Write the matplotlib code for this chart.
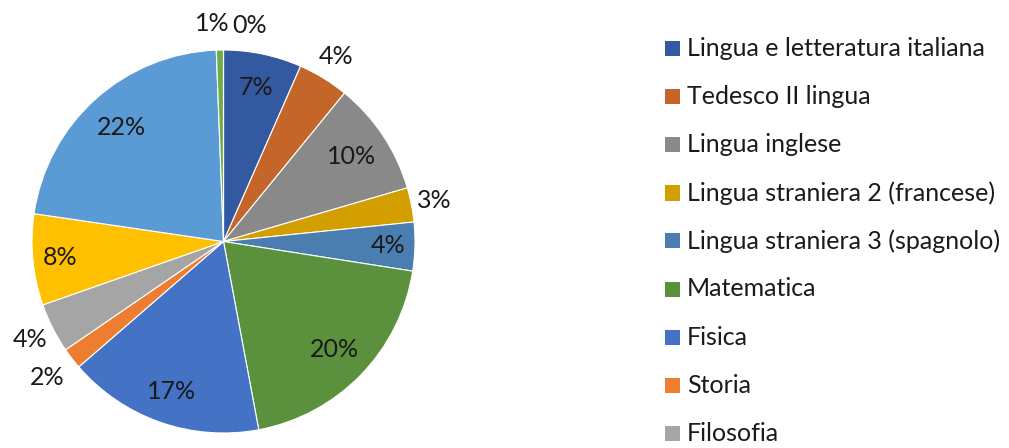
import matplotlib
matplotlib.use("Agg")
import matplotlib.pyplot as plt
from matplotlib.patches import Rectangle
import numpy as np

plt.rcParams["font.family"] = ["Lato", "DejaVu Sans"]

# ── Data ─────────────────────────────────────────────────────────────────────
subjects = [
    "Lingua e letteratura italiana",
    "Tedesco II lingua",
    "Lingua inglese",
    "Lingua straniera 2 (francese)",
    "Lingua straniera 3 (spagnolo)",
    "Matematica",
    "Fisica",
    "Storia",
    "Filosofia",
    "Scienze naturali",
    "Disegno e storia dell'arte",
    "Scienze motorie e sportive",
    "Religione cattolica",
]
shares = [6.6, 4.3, 9.6, 2.9, 4.1, 19.6, 16.6, 1.8, 4.2, 7.7, 22.1, 0.6, 0.0]

COLORS = ["#335AA1", "#C4652A", "#898989", "#D39E00", "#4A7EB0", "#5B903C",
          "#4472C4", "#ED7D31", "#A5A5A5", "#FFC000", "#5B9BD5", "#70AD47",
          "#264478"]

# label placement: radius (in pie radii)
LABEL_R = [0.82, 1.13, 0.80, 1.12, 0.86, 0.81, 0.83, 1.16, 1.13, 0.86, 0.80, 1.14, 1.13]

# ── Figure ───────────────────────────────────────────────────────────────────
W, H = 1009, 448
fig = plt.figure(figsize=(W / 100, H / 100), dpi=100)

cx, cy, r = 223.5, 241.5, 191.5
ax = fig.add_axes([(cx - r) / W, (H - cy - r) / H, 2 * r / W, 2 * r / H])

wedges, _ = ax.pie(shares, colors=COLORS, startangle=90, counterclock=False,
                   radius=1.0, wedgeprops=dict(edgecolor="white", linewidth=0.8))
ax.set_xlim(-1, 1)
ax.set_ylim(-1, 1)
ax.set_aspect("equal")
ax.axis("off")

total = sum(shares)
n = len(shares)
for i, (w, v, lr) in enumerate(zip(wedges, shares, LABEL_R)):
    mid = np.deg2rad((w.theta1 + w.theta2) / 2)
    x, y = lr * np.cos(mid), lr * np.sin(mid)
    ha = "center"
    # the last two slices crowd at 12 o'clock: push them apart
    if i == n - 2:
        x, ha = 0.034, "right"
    elif i == n - 1:
        x, ha = 0.046, "left"
    ax.text(x, y, f"{round(v / total * 100):d}%", ha=ha, va="center",
            fontsize=18, color="#1a1a1a", clip_on=False)

# ── Legend (manual, Excel-like, cut off by the bottom edge) ─────────────────
for i, (name, col) in enumerate(zip(subjects, COLORS)):
    ypx = 49 + 48 * i
    if ypx > H:
        break
    fig.patches.append(Rectangle((665 / W, (H - ypx - 7.5) / H), 15 / W, 15 / H,
                                 transform=fig.transFigure, facecolor=col,
                                 edgecolor="none"))
    fig.text(687 / W, (H - ypx) / H, name, ha="left", va="center",
             fontsize=18, color="#1a1a1a")

fig.savefig("out.png", dpi=100)
